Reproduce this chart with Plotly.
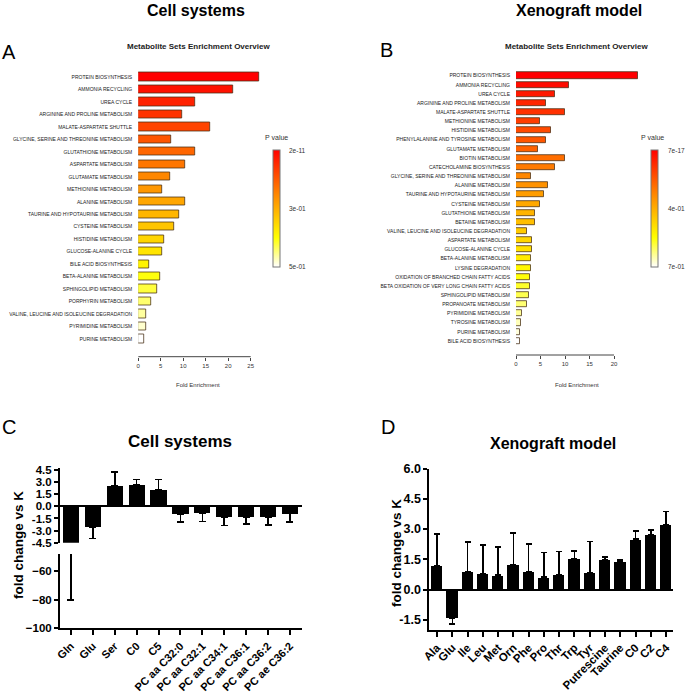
import plotly.graph_objects as go

W, H = 685, 694
def px(x): return x / W
def py(y): return 1 - y / H

FONT = "Liberation Sans, Arial, sans-serif"

# ---------------- Panel A data (Cell systems enrichment) ----------------
sets_a = ["PROTEIN BIOSYNTHESIS", "AMMONIA RECYCLING", "UREA CYCLE",
          "ARGININE AND PROLINE METABOLISM", "MALATE-ASPARTATE SHUTTLE",
          "GLYCINE, SERINE AND THREONINE METABOLISM", "GLUTATHIONE METABOLISM",
          "ASPARTATE METABOLISM", "GLUTAMATE METABOLISM", "METHIONINE METABOLISM",
          "ALANINE METABOLISM", "TAURINE AND HYPOTAURINE METABOLISM",
          "CYSTEINE METABOLISM", "HISTIDINE METABOLISM", "GLUCOSE-ALANINE CYCLE",
          "BILE ACID BIOSYNTHESIS", "BETA-ALANINE METABOLISM",
          "SPHINGOLIPID METABOLISM", "PORPHYRIN METABOLISM",
          "VALINE, LEUCINE AND ISOLEUCINE DEGRADATION", "PYRIMIDINE METABOLISM",
          "PURINE METABOLISM"]
fold_a = [26.8, 21.2, 12.7, 9.8, 15.9, 7.3, 12.7, 10.5, 7.1, 5.3, 10.5, 9.1,
          7.9, 5.8, 5.3, 2.55, 4.9, 4.25, 2.9, 1.8, 1.8, 1.36]
pval_a = [2e-11, 4e-9, 1e-6, 2e-5, 1e-4, 8e-4, 3e-3, 1e-2, 3e-2, 6e-2, 0.10,
          0.15, 0.20, 0.26, 0.30, 0.33, 0.36, 0.39, 0.42, 0.45, 0.48, 0.50]
cbar_labels_a = ["5e-01", "3e-01", "2e-11"]

# ---------------- Panel B data (Xenograft enrichment) ----------------
sets_b = ["PROTEIN BIOSYNTHESIS", "AMMONIA RECYCLING", "UREA CYCLE",
          "ARGININE AND PROLINE METABOLISM", "MALATE-ASPARTATE SHUTTLE",
          "METHIONINE METABOLISM", "HISTIDINE METABOLISM",
          "PHENYLALANINE AND TYROSINE METABOLISM", "GLUTAMATE METABOLISM",
          "BIOTIN METABOLISM", "CATECHOLAMINE BIOSYNTHESIS",
          "GLYCINE, SERINE AND THREONINE METABOLISM", "ALANINE METABOLISM",
          "TAURINE AND HYPOTAURINE METABOLISM", "CYSTEINE METABOLISM",
          "GLUTATHIONE METABOLISM", "BETAINE METABOLISM",
          "VALINE, LEUCINE AND ISOLEUCINE DEGRADATION", "ASPARTATE METABOLISM",
          "GLUCOSE-ALANINE CYCLE", "BETA-ALANINE METABOLISM", "LYSINE DEGRADATION",
          "OXIDATION OF BRANCHED CHAIN FATTY ACIDS",
          "BETA OXIDATION OF VERY LONG CHAIN FATTY ACIDS",
          "SPHINGOLIPID METABOLISM", "PROPANOATE METABOLISM",
          "PYRIMIDINE METABOLISM", "TYROSINE METABOLISM", "PURINE METABOLISM",
          "BILE ACID BIOSYNTHESIS"]
fold_b = [24.8, 10.9, 7.9, 6.06, 9.9, 4.97, 7.2, 6.06, 4.4, 9.9, 7.9, 3.13,
          6.6, 5.65, 4.97, 3.95, 3.95, 2.24, 3.33, 3.33, 3.13, 3.13, 2.86, 2.86,
          2.65, 2.24, 1.16, 1.1, 0.88, 0.82]
pval_b = [7e-17, 1e-9, 3e-7, 5e-6, 2e-5, 1e-4, 4e-4, 1e-3, 3e-3, 6e-3, 1e-2,
          2e-2, 4e-2, 7e-2, 0.10, 0.15, 0.20, 0.26, 0.32, 0.37, 0.40, 0.44,
          0.48, 0.52, 0.55, 0.58, 0.62, 0.65, 0.68, 0.70]
cbar_labels_b = ["7e-01", "4e-01", "7e-17"]

# ---------------- Panel C data (Cell systems fold change) ----------------
metab_c = ["Gln", "Glu", "Ser", "C0", "C5", "PC aa C32:0", "PC aa C32:1",
           "PC aa C34:1", "PC aa C36:1", "PC aa C36:2", "PC ae C36:2"]
fc_c = [-30.0, -2.6, 2.5, 2.7, 2.0, -0.95, -0.85, -1.35, -1.3, -1.35, -0.9]
sd_c = [50.0, 1.4, 1.75, 0.65, 1.35, 1.0, 1.0, 1.0, 0.85, 0.95, 1.05]
yticks_c_top = [-4.5, -3.0, -1.5, 0.0, 1.5, 3.0, 4.5]
yticks_c_bot = [-100, -80, -60]

# ---------------- Panel D data (Xenograft fold change) ----------------
metab_d = ["Ala", "Glu", "Ile", "Leu", "Met", "Orn", "Phe", "Pro", "Thr", "Trp",
           "Tyr", "Putrescine", "Taurine", "C0", "C2", "C4"]
fc_d = [1.2, -1.4, 0.9, 0.8, 0.72, 1.25, 0.88, 0.62, 0.75, 1.53, 0.83, 1.48,
        1.42, 2.5, 2.72, 3.22]
sd_d = [1.55, 0.3, 1.45, 1.4, 1.4, 1.55, 1.37, 1.23, 1.15, 0.4, 1.55, 0.15,
        0.07, 0.42, 0.25, 0.66]
yticks_d = [-1.5, 0.0, 1.5, 3.0, 4.5, 6.0]

HEAT = [[0.0, "rgb(255,255,255)"], [0.25, "rgb(255,255,0)"],
        [0.62, "rgb(255,135,0)"], [1.0, "rgb(255,0,0)"]]


def rank_colors(pvals):
    order = sorted(range(len(pvals)), key=lambda i: pvals[i])
    rank = [0] * len(pvals)
    for r, i in enumerate(order):
        rank[i] = r
    n = len(pvals)
    return [n - 1 - r for r in rank]


fig = go.Figure()


def ann(text, x, y, size, bold=False, angle=0, color="black", xanchor="center"):
    fig.add_annotation(text=text, x=px(x), y=py(y), xref="paper", yref="paper",
                       showarrow=False, xanchor=xanchor, yanchor="middle",
                       textangle=angle,
                       font=dict(size=size, family=FONT, color=color,
                                 weight="bold" if bold else "normal"))


def enrichment(names, vals, pvals, labels, xa, ya, cb_left, cb_top, cb_bot):
    n = len(names)
    fig.add_trace(go.Bar(
        x=vals, y=names, orientation="h", xaxis=xa, yaxis=ya, width=0.66,
        marker=dict(color=rank_colors(pvals), colorscale=HEAT, cmin=0, cmax=n - 1,
                    line=dict(color="rgba(70,45,20,0.75)", width=1),
                    showscale=True,
                    colorbar=dict(x=px(cb_left), xanchor="left", y=py(cb_top),
                                  yanchor="top", len=cb_bot - cb_top, lenmode="pixels",
                                  thickness=6.6, thicknessmode="pixels", xpad=0,
                                  ypad=0, outlinewidth=1, outlinecolor="#777",
                                  showticklabels=False, ticks="")),
        showlegend=False, hoverinfo="x+y"))
    # colorbar labels (bottom, middle, top)
    for lab, yy in zip(labels, [cb_bot, (cb_top + cb_bot) / 2, cb_top]):
        ann(lab, cb_left + 14.5, yy, 6.5, color="#333", xanchor="left")


enrichment(sets_a, fold_a, pval_a, cbar_labels_a, "x", "y", 272.7, 150, 266.7)
enrichment(sets_b, fold_b, pval_b, cbar_labels_b, "x2", "y2", 651, 150, 266.7)


def fc_bars(names, vals, sds, xa, ya, width, cap):
    plus = [s if v >= 0 else 0 for v, s in zip(vals, sds)]
    minus = [s if v < 0 else 0 for v, s in zip(vals, sds)]
    fig.add_trace(go.Bar(
        x=names, y=vals, xaxis=xa, yaxis=ya, width=width,
        marker=dict(color="black", line=dict(width=0)),
        error_y=dict(type="data", symmetric=False, array=plus, arrayminus=minus,
                     color="black", thickness=1.6, width=cap),
        showlegend=False))


fc_bars(metab_c, fc_c, sd_c, "x3", "y3", 0.74, 3.5)
fc_bars(metab_c, fc_c, sd_c, "x4", "y4", 0.74, 3.5)
fc_bars(metab_d, fc_d, sd_d, "x5", "y5", 0.74, 3)

small = dict(size=6, family=FONT, color="#333")
bold_c = dict(size=11.5, family=FONT, color="black", weight="bold")

xa_max, ya_rows = 27.5, len(sets_a)
layout = dict(
    width=W, height=H,
    margin=dict(l=0, r=0, t=0, b=0, pad=0, autoexpand=False),
    paper_bgcolor="white", plot_bgcolor="white",
    font=dict(family=FONT),
    bargap=0,
    xaxis=dict(domain=[px(138.2), px(138.2 + xa_max * 4.5)], range=[0, xa_max],
               anchor="y", tickvals=[0, 5, 10, 15, 20, 25], ticks="outside",
               ticklen=3, tickwidth=1, tickcolor="#444", showline=False,
               showgrid=False, zeroline=False, tickfont=small, automargin=False),
    yaxis=dict(domain=[py(356.7), py(69.5)], range=[ya_rows - 1 + 1.42, -0.6],
               anchor="x", type="category", showgrid=False, zeroline=False,
               ticks="", ticklabelstandoff=5, automargin=False,
               tickfont=dict(size=5, family=FONT, color="#222")),
    xaxis2=dict(domain=[px(516), px(516 + 25.5 * 4.9)], range=[0, 25.5],
                anchor="y2", tickvals=[0, 5, 10, 15, 20], ticks="outside",
                ticklen=3, tickwidth=1, tickcolor="#444", showline=False,
                showgrid=False, zeroline=False, tickfont=small, automargin=False),
    yaxis2=dict(domain=[py(355), py(70.2)], range=[len(sets_b) - 1 + 1.53, -0.6],
                anchor="x2", type="category", showgrid=False, zeroline=False,
                ticks="", ticklabelstandoff=5, automargin=False,
                tickfont=dict(size=5, family=FONT, color="#222")),
    # Panel C top segment
    xaxis3=dict(domain=[px(60), px(302)], range=[-0.5, 10.55], anchor="y3",
                type="category", showticklabels=False, ticks="", showline=False,
                showgrid=False, zeroline=False, automargin=False),
    yaxis3=dict(domain=[py(542.7), py(468)], range=[-4.5, 4.75], anchor="x3",
                tickvals=yticks_c_top, ticktext=[f"{v:.1f}" for v in yticks_c_top],
                ticks="outside", ticklen=4, tickwidth=2, tickcolor="black",
                showline=True, linewidth=2, linecolor="black", showgrid=False,
                zeroline=True, zerolinewidth=2, zerolinecolor="black",
                tickfont=bold_c, automargin=False),
    # Panel C bottom segment
    xaxis4=dict(domain=[px(60), px(302)], range=[-0.5, 10.55], anchor="y4",
                type="category", ticks="outside", ticklen=5, tickwidth=2,
                tickcolor="black", showline=True, linewidth=2, linecolor="black",
                showgrid=False, zeroline=False, tickangle=-45, automargin=False,
                tickfont=dict(size=11, family=FONT, color="black", weight="bold")),
    yaxis4=dict(domain=[py(628.3), py(554)], range=[-100, -47.9], anchor="x4",
                tickvals=yticks_c_bot, ticks="outside", ticklen=4, tickwidth=2,
                tickcolor="black", showline=True, linewidth=2, linecolor="black",
                showgrid=False, zeroline=False, tickfont=bold_c, automargin=False),
    # Panel D
    xaxis5=dict(domain=[px(429.4), px(673)], range=[-0.5, 15.45], anchor="y5",
                type="category", ticks="outside", ticklen=5, tickwidth=2,
                tickcolor="black", showline=True, linewidth=2, linecolor="black",
                showgrid=False, zeroline=False, tickangle=-45, automargin=False,
                tickfont=dict(size=11.5, family=FONT, color="black", weight="bold")),
    yaxis5=dict(domain=[py(629.5), py(468.5)], range=[-1.97, 6.0], anchor="x5",
                tickvals=yticks_d, ticktext=[f"{v:.1f}" for v in yticks_d],
                ticks="outside", ticklen=4, tickwidth=2, tickcolor="black",
                showline=True, linewidth=2, linecolor="black", showgrid=False,
                zeroline=True, zerolinewidth=2, zerolinecolor="black",
                automargin=False,
                tickfont=dict(size=12.5, family=FONT, color="black", weight="bold")),
)
fig.update_layout(**layout)

# R-style axis lines for panels A and B
fig.add_shape(type="line", xref="x", yref="paper", x0=0, x1=25, y0=py(356.7),
              y1=py(356.7), line=dict(color="#444", width=1))
fig.add_shape(type="line", xref="x2", yref="paper", x0=0, x1=20, y0=py(355),
              y1=py(355), line=dict(color="#444", width=1))

ann("Cell systems", 196, 11, 16, bold=True)
ann("Xenograft model", 579, 11, 16, bold=True)
ann("A", 9, 52, 20)
ann("B", 386, 50, 20)
ann("Metabolite Sets Enrichment Overview", 198, 46, 8, bold=True, color="#222")
ann("Metabolite Sets Enrichment Overview", 576, 46, 8, bold=True, color="#222")
ann("Fold Enrichment", 198, 385, 6, color="#333")
ann("Fold Enrichment", 577, 385, 6, color="#333")
ann("P value", 276, 138, 7, color="#333")
ann("P value", 652, 138, 7, color="#333")
ann("C", 9, 427, 20)
ann("D", 388, 427, 20)
ann("Cell systems", 180, 442, 17, bold=True)
ann("Xenograft model", 553, 443, 16, bold=True)
ann("fold change vs K", 18, 545, 13.5, bold=True, angle=-90)
ann("fold change vs K", 396, 553, 13.5, bold=True, angle=-90)

fig.write_html(
    "out.html",
    config={"displayModeBar": False},
    post_script="document.body.style.margin='0';document.body.style.padding='0';"
                "document.body.style.overflow='hidden';",
)
